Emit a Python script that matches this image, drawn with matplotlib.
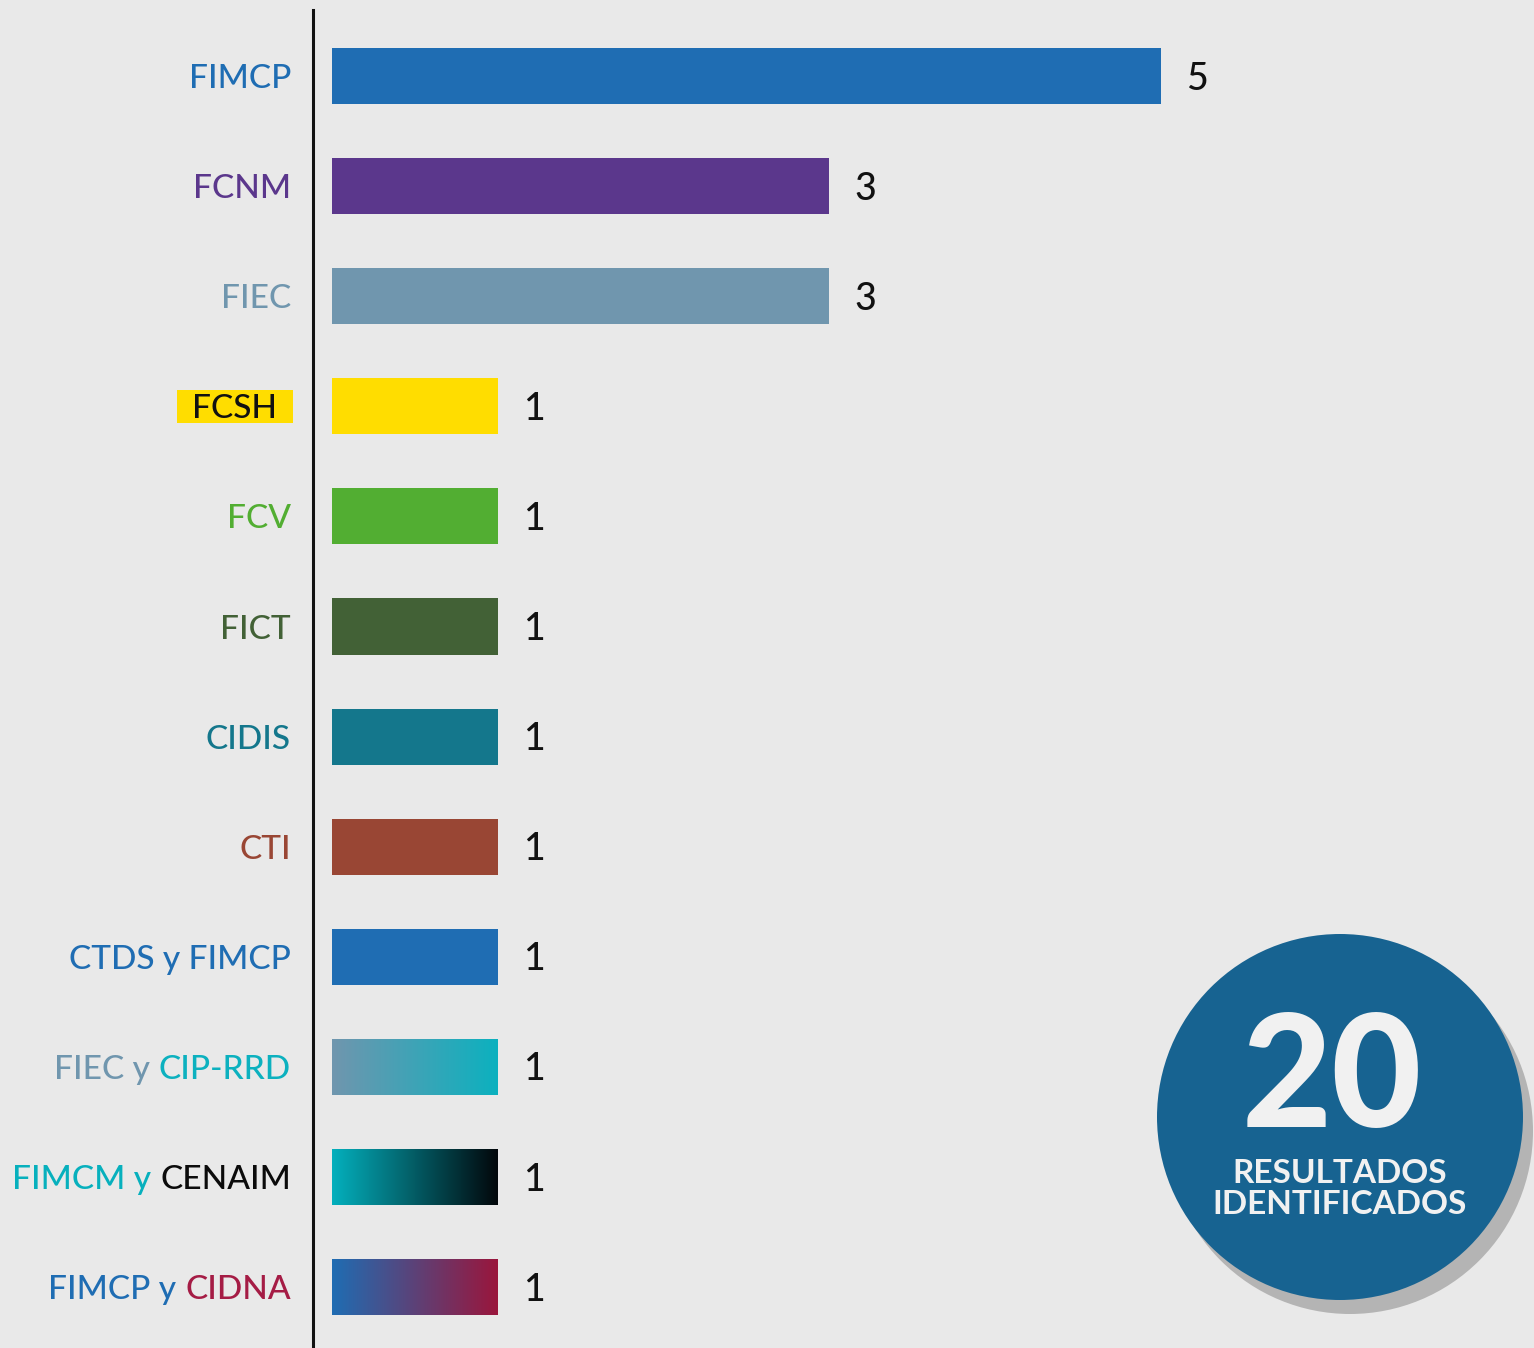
import matplotlib.pyplot as plt
import numpy as np
from matplotlib.colors import LinearSegmentedColormap
from matplotlib.patches import Circle, Rectangle
from matplotlib.transforms import IdentityTransform

plt.rcParams['font.family'] = ['Lato', 'DejaVu Sans']

# data
categories = ['FIMCP', 'FCNM', 'FIEC', 'FCSH', 'FCV', 'FICT', 'CIDIS', 'CTI',
              'CTDS y FIMCP', 'FIEC y CIP-RRD', 'FIMCM y CENAIM', 'FIMCP y CIDNA']
values = [5, 3, 3, 1, 1, 1, 1, 1, 1, 1, 1, 1]
bar_colors = ['#1f6db3', '#5b378c', '#7096ae', '#ffdd00', '#52ae32', '#426136',
              '#14778c', '#994634', '#1f6db3', None, None, None]
gradients = {9: ('#7096ae', '#0cb1bf'), 10: ('#04b0bd', '#02070b'), 11: ('#1f6db3', '#9a163c')}
label_parts = [
    [('FIMCP', '#1f6db3')],
    [('FCNM', '#5b378c')],
    [('FIEC', '#7096ae')],
    [('FCSH', '#111111')],
    [('FCV', '#52ae32')],
    [('FICT', '#426136')],
    [('CIDIS', '#14778c')],
    [('CTI', '#994634')],
    [('CTDS y FIMCP', '#1f6db3')],
    [('FIEC y', '#7096ae'), ('CIP-RRD', '#0cb1bf')],
    [('FIMCM y', '#07b0bd'), ('CENAIM', '#0b0b0b')],
    [('FIMCP y', '#1f6db3'), ('CIDNA', '#a51c45')],
]
total = 20

fig = plt.figure(figsize=(15.34, 13.48), dpi=100, facecolor='#e9e9e9')
ax = fig.add_axes([313 / 1534, 0, 1 - 313 / 1534, 1338 / 1348])
ax.set_facecolor('none')

y = np.arange(len(categories))
bars = ax.barh(y, values, height=0.51,
               color=[c if c else 'none' for c in bar_colors], zorder=2)

# gradient bars
for i, (c0, c1) in gradients.items():
    b = bars[i]
    cmap = LinearSegmentedColormap.from_list('g%d' % i, [c0, c1])
    grad = np.linspace(0, 1, 256).reshape(1, -1)
    im = ax.imshow(grad, cmap=cmap, aspect='auto', zorder=2,
                   extent=[b.get_x(), b.get_x() + b.get_width(),
                           b.get_y() + b.get_height(), b.get_y()])
    im.set_clip_path(b)

ax.set_xlim(-0.1146, 7.25)
ax.set_ylim(11.553, -0.5995)

for s in ['top', 'right', 'bottom']:
    ax.spines[s].set_visible(False)
ax.spines['left'].set_linewidth(2.2)
ax.spines['left'].set_color('#111111')
ax.set_xticks([])
ax.set_yticks([])

# value labels
for b, v in zip(bars, values):
    ax.annotate(str(v), xy=(b.get_width(), b.get_y() + b.get_height() / 2),
                xytext=(25, -13.5), textcoords='offset pixels',
                ha='left', va='baseline', fontsize=27, fontweight='medium',
                color='#111111')

# category labels (multi-colour pieces, right to left)
fcsh_text = None
for i, parts in enumerate(label_parts):
    prev = None
    for text, col in reversed(parts):
        if prev is None:
            dx = -55 if categories[i] == 'FCSH' else -41
            prev = ax.annotate(text, xy=(0, i), xytext=(dx, -12),
                               textcoords='offset pixels', ha='right',
                               va='baseline', fontsize=24, fontweight='medium',
                               color=col, zorder=4)
        else:
            prev = ax.annotate(text, xy=(0, i), xycoords=(prev, 'data'),
                               xytext=(-9, -12), textcoords='offset pixels',
                               ha='right', va='baseline', fontsize=24,
                               fontweight='medium', color=col, zorder=4)
    if categories[i] == 'FCSH':
        fcsh_text = prev

# yellow highlight behind FCSH
renderer = fig.canvas.get_renderer()
ext = fcsh_text.get_window_extent(renderer)
cy = ax.transData.transform((0, 3))[1]
ax.add_artist(Rectangle((ext.x0 - 15, cy - 16.5), ext.width + 31, 33,
                        transform=IdentityTransform(), facecolor='#ffdd00',
                        edgecolor='none', zorder=1, clip_on=False))

# total badge
cax = fig.add_axes([1140 / 1534, 31 / 1348, 400 / 1534, 400 / 1348])
cax.set_xlim(0, 400)
cax.set_ylim(0, 400)
cax.axis('off')
cax.add_patch(Circle((210, 186), 183, facecolor='#b4b4b4', edgecolor='none',
                     clip_on=False))
cax.add_patch(Circle((200, 200), 183, facecolor='#176391', edgecolor='none',
                     clip_on=False))
cax.text(192, 190, str(total), ha='center', va='baseline', fontsize=112,
         fontweight='black', color='#f1f1f1')
cax.text(200, 134, 'RESULTADOS', ha='center', va='baseline', fontsize=24,
         fontweight='bold', color='#f1f1f1')
cax.text(200, 103, 'IDENTIFICADOS', ha='center', va='baseline', fontsize=24,
         fontweight='bold', color='#f1f1f1')

fig.savefig('out.png', dpi=100, facecolor=fig.get_facecolor())
